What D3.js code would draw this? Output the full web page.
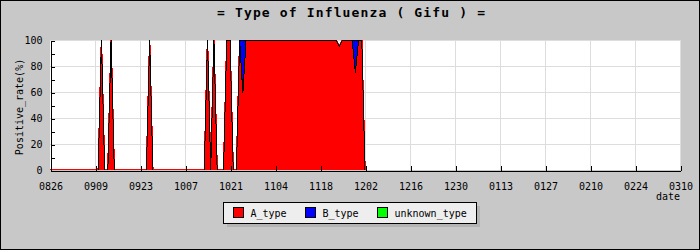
<!DOCTYPE html>
<html>
<head>
<meta charset="utf-8">
<script src="https://cdn.jsdelivr.net/npm/d3@7"></script>
<style>
  body { margin: 0; background: #c8c8c8; }
  svg { display: block; }
  text { font-family: 'DejaVu Sans Mono', monospace; }
</style>
</head>
<body>
<script>
// Data: daily positive rate (%) from 2009-08-26
const startDate = '2009-08-26'
const endDate = '2010-03-10'
const KEYS = ['A_type', 'B_type', 'unknown_type']
const COLORS = ['#ff0000', '#0000ff', '#00ff00']

const A_type = [
  0, 0, 0, 0, 0, 0, 0, 0, 0, 0, 0, 0, 0, 0,
  0, 0, 100, 0, 0, 100, 0, 0, 0, 0, 0, 0, 0, 0,
  0, 0, 0, 100, 0, 0, 0, 0, 0, 0, 0, 0, 0, 0,
  0, 0, 0, 0, 0, 0, 0, 100, 0, 100, 0, 0, 0, 100,
  100, 0, 0, 100, 59, 100, 100, 100, 100, 100, 100, 100, 100, 100,
  100, 100, 100, 100, 100, 100, 100, 100, 100, 100, 100, 100, 100, 100,
  100, 100, 100, 100, 100, 100, 95, 100, 100, 100, 100, 75, 100, 100,
  0
]
const B_type = [
  0, 0, 0, 0, 0, 0, 0, 0, 0, 0, 0, 0, 0, 0,
  0, 0, 0, 0, 0, 0, 0, 0, 0, 0, 0, 0, 0, 0,
  0, 0, 0, 0, 0, 0, 0, 0, 0, 0, 0, 0, 0, 0,
  0, 0, 0, 0, 0, 0, 0, 0, 0, 0, 0, 0, 0, 0,
  0, 0, 0, 0, 41, 0, 0, 0, 0, 0, 0, 0, 0, 0,
  0, 0, 0, 0, 0, 0, 0, 0, 0, 0, 0, 0, 0, 0,
  0, 0, 0, 0, 0, 0, 0, 0, 0, 0, 0, 25, 0, 0,
  0
]
const unknown_type = [
  0, 0, 0, 0, 0, 0, 0, 0, 0, 0, 0, 0, 0, 0,
  0, 0, 0, 0, 0, 0, 0, 0, 0, 0, 0, 0, 0, 0,
  0, 0, 0, 0, 0, 0, 0, 0, 0, 0, 0, 0, 0, 0,
  0, 0, 0, 0, 0, 0, 0, 0, 0, 0, 0, 0, 0, 0,
  0, 0, 0, 0, 0, 0, 0, 0, 0, 0, 0, 0, 0, 0,
  0, 0, 0, 0, 0, 0, 0, 0, 0, 0, 0, 0, 0, 0,
  0, 0, 0, 0, 0, 0, 0, 0, 0, 0, 0, 0, 0, 0,
  0
]
const X_TICKS = ['0826', '0909', '0923', '1007', '1021', '1104', '1118',
  '1202', '1216', '1230', '0113', '0127', '0210', '0224', '0310']
const Y_TICKS = [0, 10, 20, 30, 40, 50, 60, 70, 80, 90, 100]

// Initialization
const width = 700
const height = 250
const plotLeft = 50
const plotRight = 680
const plotTop = 40
const plotBottom = 170
const parse = d3.utcParse('%Y-%m-%d')
const start = parse(startDate)

// tick label 'MMDD' -> date in the season
function tickDate(label) {
  const month = +label.slice(0, 2)
  const year = month >= 8 ? 2009 : 2010
  return parse(`${year}-${label.slice(0, 2)}-${label.slice(2)}`)
}

const rows = A_type.map((_, i) => ({
  date: d3.utcDay.offset(start, i),
  A_type: A_type[i],
  B_type: B_type[i],
  unknown_type: unknown_type[i]
}))

const x = d3.scaleUtc()
  .domain([start, parse(endDate)])
  .range([plotLeft, plotRight])
const y = d3.scaleLinear()
  .domain([0, 100])
  .range([plotBottom, plotTop])

const svg = d3.select('body').append('svg')
  .attr('width', width)
  .attr('height', height)

svg.append('clipPath')
  .attr('id', 'plot-clip')
  .append('rect')
  .attr('x', plotLeft).attr('y', plotTop)
  .attr('width', plotRight - plotLeft).attr('height', plotBottom - plotTop)

// Background and frame
svg.append('rect')
  .attr('x', 0.5).attr('y', 0.5)
  .attr('width', width - 1).attr('height', height - 1)
  .attr('fill', '#c8c8c8')
  .attr('stroke', 'black')

// Title
svg.append('text')
  .attr('x', 351)
  .attr('y', 17)
  .attr('text-anchor', 'middle')
  .style('font-size', '13px')
  .style('font-weight', 'bold')
  .attr('textLength', 268)
  .attr('lengthAdjust', 'spacing')
  .text('= Type of Influenza ( Gifu ) =')

// Plot area
svg.append('rect')
  .attr('x', plotLeft).attr('y', plotTop)
  .attr('width', plotRight - plotLeft).attr('height', plotBottom - plotTop)
  .attr('fill', 'white')

// Grid
const tickDates = X_TICKS.map(tickDate)
svg.append('g')
  .selectAll('line')
  .data(tickDates.slice(1))
  .enter()
  .append('line')
  .attr('x1', d => Math.round(x(d)) + 0.5)
  .attr('x2', d => Math.round(x(d)) + 0.5)
  .attr('y1', plotTop)
  .attr('y2', plotBottom)
  .attr('stroke', '#dddddd')
svg.append('g')
  .selectAll('line')
  .data(Y_TICKS.filter(v => v % 20 == 0 && v > 0))
  .enter()
  .append('line')
  .attr('x1', plotLeft)
  .attr('x2', plotRight)
  .attr('y1', d => Math.round(y(d)) + 0.5)
  .attr('y2', d => Math.round(y(d)) + 0.5)
  .attr('stroke', '#dddddd')

// Stacked areas
const series = d3.stack().keys(KEYS)(rows)
const area = d3.area()
  .x(d => x(d.data.date))
  .y0(d => y(d[0]))
  .y1(d => y(d[1]))
const line = d3.line()
  .x(d => x(d.data.date))
  .y(d => y(d[1]))

const plot = svg.append('g')
  .attr('clip-path', 'url(#plot-clip)')

plot.append('g')
  .selectAll('path')
  .data(series)
  .enter()
  .append('path')
  .attr('d', area)
  .attr('fill', (_, i) => COLORS[i])
  // widen the A fill a little, like the bitmap original
  .attr('stroke', (_, i) => i == 0 ? COLORS[0] : 'none')
  .attr('stroke-width', 1.5)
  .attr('stroke-linejoin', 'bevel')
  .attr('shape-rendering', 'crispEdges')

plot.append('g')
  .selectAll('path')
  .data(series)
  .enter()
  .append('path')
  .attr('d', line)
  .attr('fill', 'none')
  .attr('stroke', 'black')
  .attr('stroke-width', 1)
  .attr('shape-rendering', 'crispEdges')

// Axes
svg.append('g')
  .attr('transform', `translate(${plotLeft + 0.5},0.5)`)
  .call(d3.axisLeft(y)
    .tickValues(Y_TICKS)
    .tickSizeInner(-4)
    .tickSizeOuter(0)
    .tickPadding(8)
    .tickFormat(d => d % 20 == 0 ? d : ''))
svg.append('g')
  .attr('transform', `translate(0.5,${plotBottom + 0.5})`)
  .call(d3.axisBottom(x)
    .tickValues(tickDates)
    .tickSizeInner(-5)
    .tickSizeOuter(0)
    .tickPadding(12)
    .tickFormat((_, i) => X_TICKS[i]))
svg.selectAll('.domain, .tick line')
  .attr('stroke', 'black')
  .attr('shape-rendering', 'crispEdges')
svg.selectAll('.tick text')
  .attr('fill', 'black')
  .style('font-family', "'DejaVu Sans Mono', monospace")
  .style('font-size', '10px')

// Axis titles
svg.append('text')
  .attr('transform', 'translate(23,107) rotate(-90)')
  .attr('text-anchor', 'middle')
  .style('font-size', '10px')
  .text('Positive_rate(%)')
svg.append('text')
  .attr('x', 680)
  .attr('y', 200)
  .attr('text-anchor', 'end')
  .style('font-size', '10px')
  .text('date')

// Legend
const legendX = 223.5
const legendY = 202.5
const itemX = [10, 82, 154]
const legend = svg.append('g')
  .attr('id', 'legend')
legend.append('rect')
  .attr('x', legendX + 3.5).attr('y', legendY + 3.5)
  .attr('width', 253).attr('height', 21)
  .attr('fill', '#b4b4b4')
legend.append('rect')
  .attr('x', legendX).attr('y', legendY)
  .attr('width', 253).attr('height', 21)
  .attr('fill', '#eeeeee')
  .attr('stroke', 'black')
legend.selectAll('.swatch')
  .data(KEYS)
  .enter()
  .append('rect')
  .attr('class', 'swatch')
  .attr('x', (_, i) => legendX + itemX[i])
  .attr('y', legendY + 5)
  .attr('width', 10)
  .attr('height', 10)
  .attr('fill', (_, i) => COLORS[i])
  .attr('stroke', 'black')
legend.selectAll('.label')
  .data(KEYS)
  .enter()
  .append('text')
  .attr('class', 'label')
  .attr('x', (_, i) => legendX + itemX[i] + 17)
  .attr('y', legendY + 14)
  .style('font-size', '10px')
  .text(d => d)
</script>
</body>
</html>
